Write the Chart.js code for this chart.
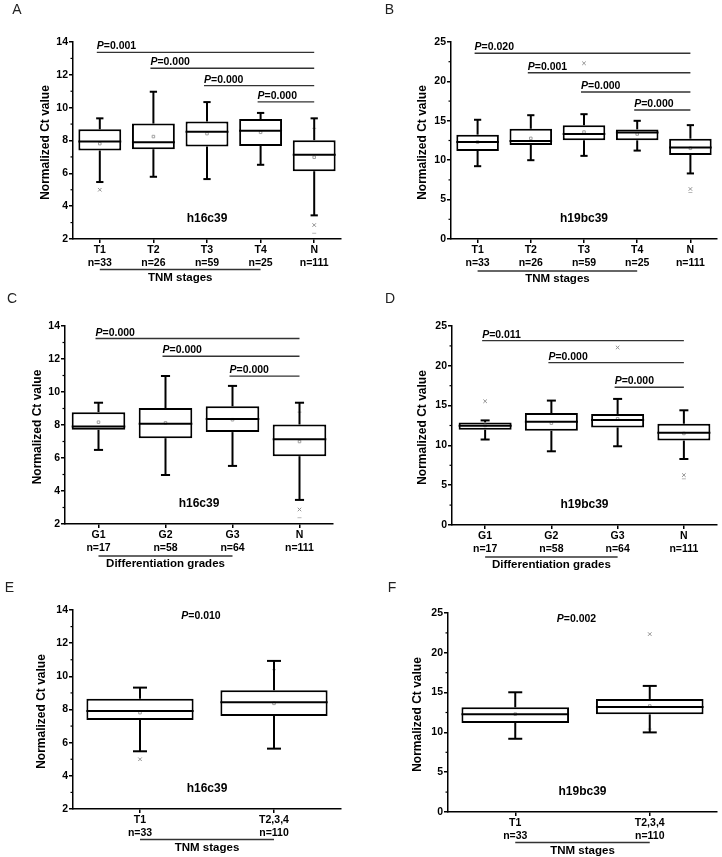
<!DOCTYPE html>
<html>
<head>
<meta charset="utf-8">
<script src="https://cdn.jsdelivr.net/npm/chart.js@4.4.1/dist/chart.umd.min.js"></script>
<style>
  body { margin: 0; background: #fff; width: 722px; height: 857px; position: relative; overflow: hidden; }
  .cell { position: absolute; }
  .cell canvas { display: block; }
</style>
</head>
<body>
<div class="cell" style="left:0;top:0"><canvas id="chartA"></canvas></div>
<div class="cell" style="left:361px;top:0"><canvas id="chartB"></canvas></div>
<div class="cell" style="left:0;top:290px"><canvas id="chartC"></canvas></div>
<div class="cell" style="left:361px;top:290px"><canvas id="chartD"></canvas></div>
<div class="cell" style="left:0;top:580px"><canvas id="chartE"></canvas></div>
<div class="cell" style="left:361px;top:580px"><canvas id="chartF"></canvas></div>
<script>
// --- categories ---
const stageNames = ['T1', 'T2', 'T3', 'T4', 'N'];
const stageCounts = ['n=33', 'n=26', 'n=59', 'n=25', 'n=111'];
const gradeNames = ['G1', 'G2', 'G3', 'N'];
const gradeCounts = ['n=17', 'n=58', 'n=64', 'n=111'];
const pairNames = ['T1', 'T2,3,4'];
const pairCounts = ['n=33', 'n=110'];

// --- A: h16c39 by TNM stage ---
const aLow = [5.47, 5.79, 5.65, 6.52, 3.44];
const aQ1 = [7.39, 7.47, 7.63, 7.67, 6.13];
const aMedian = [7.94, 7.89, 8.54, 8.60, 7.13];
const aQ3 = [8.68, 9.03, 9.15, 9.31, 8.02];
const aHigh = [9.35, 10.97, 10.34, 9.68, 9.35];
const aMean = [7.81, 8.24, 8.42, 8.50, 6.98];
const aOutliers = [['T1', 5.0], ['N', 2.85]];
const aMarks = [['N', 8.74], ['N', 2.35]];
const aPValues = ['0.001', '0.000', '0.000', '0.000'];

// --- B: h19bc39 by TNM stage ---
const bLow = [9.24, 10.0, 10.55, 11.22, 8.32];
const bQ1 = [11.18, 11.93, 12.52, 12.52, 10.67];
const bMedian = [12.3, 12.45, 13.32, 13.5, 11.62];
const bQ3 = [13.24, 13.99, 14.45, 13.91, 12.73];
const bHigh = [15.13, 15.71, 15.84, 15.0, 14.45];
const bMean = [12.3, 12.77, 13.57, 13.32, 11.51];
const bOutliers = [['T3', 22.3], ['N', 6.35]];
const bMarks = [['N', 5.9]];
const bPValues = ['0.020', '0.001', '0.000', '0.000'];

// --- C: h16c39 by differentiation grade ---
const cLow = [6.49, 4.97, 5.52, 3.46];
const cQ1 = [7.71, 7.2, 7.57, 6.11];
const cMedian = [7.91, 8.07, 8.36, 7.14];
const cQ3 = [8.78, 9.03, 9.13, 8.03];
const cHigh = [9.35, 10.97, 10.37, 9.35];
const cMean = [8.17, 8.13, 8.32, 7.0];
const cOutliers = [['N', 2.88]];
const cMarks = [['N', 8.78], ['N', 2.38]];
const cPValues = ['0.000', '0.000', '0.000'];

// --- D: h19bc39 by differentiation grade ---
const dLow = [10.74, 9.26, 9.89, 8.29];
const dQ1 = [11.96, 11.84, 12.26, 10.61];
const dMedian = [12.47, 12.97, 13.19, 11.58];
const dQ3 = [12.89, 14.07, 13.95, 12.72];
const dHigh = [13.14, 15.63, 15.84, 14.41];
const dMean = [12.5, 12.8, 13.35, 11.5];
const dOutliers = [['G1', 15.55], ['G3', 22.3], ['N', 6.27]];
const dMarks = [['N', 5.8]];
const dPValues = ['0.011', '0.000', '0.000'];

// --- E: h16c39, T1 vs T2,3,4 ---
const eLow = [5.48, 5.64];
const eQ1 = [7.37, 7.61];
const eMedian = [7.91, 8.43];
const eQ3 = [8.65, 9.16];
const eHigh = [9.32, 10.93];
const eMean = [7.81, 8.37];
const eOutliers = [['T1', 5.0]];
const eMarks = [['T2,3,4', 10.4]];
const ePValues = ['0.010'];

// --- F: h19bc39, T1 vs T2,3,4 ---
const fLow = [9.2, 10.0];
const fQ1 = [11.18, 12.27];
const fMedian = [12.27, 13.19];
const fQ3 = [13.15, 14.2];
const fHigh = [15.04, 15.84];
const fMean = [12.3, 13.32];
const fOutliers = [['T2,3,4', 22.35]];
const fMarks = [['T2,3,4', 10.42]];
const fPValues = ['0.002'];

const FONT = 'Arial, "Liberation Sans", Helvetica, sans-serif';

function seg(ctx, x1, y1, x2, y2) {
    ctx.beginPath();
    ctx.moveTo(x1, y1);
    ctx.lineTo(x2, y2);
    ctx.stroke();
}

function drawP(ctx, x, y, value, center) {
    ctx.font = 'italic bold 10.5px ' + FONT;
    const wP = ctx.measureText('P').width;
    ctx.font = 'bold 10.5px ' + FONT;
    const wRest = ctx.measureText('=' + value).width;
    const x0 = center ? x - (wP + wRest) / 2 : x;
    ctx.textAlign = 'left';
    ctx.font = 'italic bold 10.5px ' + FONT;
    ctx.fillText('P', x0, y);
    ctx.font = 'bold 10.5px ' + FONT;
    ctx.fillText('=' + value, x0 + wP, y);
}

function makePanel(id, p) {
    const canvas = document.getElementById(id);
    canvas.width = p.cell.w;
    canvas.height = p.cell.h;
    const ox = p.cell.x, oy = p.cell.y;

    const boxPlugin = {
        id: 'boxes_' + id,
        afterDatasetsDraw(chart) {
            const ctx = chart.ctx, y = chart.scales.y;
            const bars = chart.getDatasetMeta(0).data;
            ctx.save();
            ctx.strokeStyle = '#000';
            ctx.lineWidth = 2;
            bars.forEach((bar, i) => {
                const half = bar.width / 2;
                const cap = Math.min(bar.width * 0.17, 14) / 2;
                const cx = bar.x;
                const yHigh = y.getPixelForValue(p.high[i]);
                const yLow = y.getPixelForValue(p.low[i]);
                seg(ctx, cx, y.getPixelForValue(p.q3[i]), cx, yHigh);
                seg(ctx, cx - cap, yHigh, cx + cap, yHigh);
                seg(ctx, cx, y.getPixelForValue(p.q1[i]), cx, yLow);
                seg(ctx, cx - cap, yLow, cx + cap, yLow);
                const ym = y.getPixelForValue(p.median[i]);
                seg(ctx, cx - half, ym, cx + half, ym);
            });
            ctx.restore();
        },
        afterDraw(chart) {
            const ctx = chart.ctx, x = chart.scales.x, y = chart.scales.y;
            const area = chart.chartArea;
            const last = p.names.length - 1;
            ctx.save();

            // minor ticks on y axis
            ctx.strokeStyle = '#000';
            ctx.lineWidth = 1.2;
            for (let v = p.yMin + p.yStep / 2; v < p.yMax; v += p.yStep) {
                const py = y.getPixelForValue(v);
                seg(ctx, area.left - 2.5, py, area.left, py);
            }

            // P value brackets
            ctx.fillStyle = '#000';
            ctx.textBaseline = 'alphabetic';
            p.pValues.forEach((val, k) => {
                const py = y.getPixelForValue(p.pLevels[k]);
                if (p.pLine) {
                    const x1 = x.getPixelForValue(k) - 3;
                    const x2 = x.getPixelForValue(last);
                    ctx.strokeStyle = '#333';
                    ctx.lineWidth = 1.4;
                    seg(ctx, x1, py, x2, py);
                    drawP(ctx, x1, py - 3, val, false);
                } else {
                    const xc = (x.getPixelForValue(0) + x.getPixelForValue(last)) / 2 - 6;
                    drawP(ctx, xc, py + 4, val, true);
                }
            });

            // gene label
            ctx.font = 'bold 12px ' + FONT;
            ctx.textAlign = 'center';
            ctx.textBaseline = 'middle';
            ctx.fillText(p.gene, (area.left + area.right) / 2, area.bottom - 20);

            // group line + group title under the x axis
            const g1 = x.getPixelForValue(0);
            const g2 = x.getPixelForValue(p.groupEnd);
            ctx.strokeStyle = '#333';
            ctx.lineWidth = 1.3;
            seg(ctx, g1, area.bottom + p.groupDy, g2, area.bottom + p.groupDy);
            ctx.font = 'bold 11.5px ' + FONT;
            ctx.fillText(p.group, (g1 + g2) / 2, area.bottom + p.groupDy + 8);

            // y axis title
            ctx.save();
            ctx.translate(p.titleX - ox, (area.top + area.bottom) / 2 + 2);
            ctx.rotate(-Math.PI / 2);
            ctx.font = 'bold 12px ' + FONT;
            ctx.fillText('Normalized Ct value', 0, 0);
            ctx.restore();

            // panel letter
            ctx.font = '14px ' + FONT;
            ctx.fillStyle = '#222';
            ctx.fillText(p.letter, p.letterPos[0] - ox, p.letterPos[1] - oy);
            ctx.restore();
        }
    };

    new Chart(canvas, {
        type: 'bar',
        data: {
            labels: p.names,
            datasets: [
                {
                    type: 'bar',
                    data: p.q1.map((v, i) => [v, p.q3[i]]),
                    backgroundColor: '#fff',
                    borderColor: '#000',
                    borderWidth: 2,
                    borderSkipped: false,
                    categoryPercentage: 0.8,
                    barPercentage: 1,
                    order: 3
                },
                {
                    type: 'line',
                    data: p.mean,
                    showLine: false,
                    pointStyle: 'rect',
                    pointRadius: 1.8,
                    pointBorderWidth: 1,
                    pointBorderColor: '#a0a0a0',
                    pointBackgroundColor: 'rgba(0,0,0,0)',
                    order: 1
                },
                {
                    type: 'line',
                    data: p.outliers.map(o => ({ x: o[0], y: o[1] })),
                    showLine: false,
                    pointStyle: 'crossRot',
                    pointRadius: 2.5,
                    pointBorderWidth: 1,
                    pointBorderColor: '#909090',
                    order: 1
                },
                {
                    type: 'line',
                    data: p.marks.map(o => ({ x: o[0], y: o[1] })),
                    showLine: false,
                    pointStyle: 'line',
                    pointRadius: 2,
                    pointBorderWidth: 1,
                    pointBorderColor: '#b8b8b8',
                    order: 1
                }
            ]
        },
        options: {
            responsive: false,
            animation: false,
            events: [],
            layout: {
                padding: {
                    left: 0,
                    top: p.area.top - oy,
                    right: ox + p.cell.w - p.area.right,
                    bottom: 0
                }
            },
            plugins: {
                legend: { display: false },
                tooltip: { enabled: false }
            },
            scales: {
                x: {
                    type: 'category',
                    offset: true,
                    grid: { offset: false, drawOnChartArea: false, tickLength: 4, color: '#000', lineWidth: 1.5 },
                    border: { color: '#000', width: 1.5 },
                    ticks: {
                        autoSkip: false,
                        maxRotation: 0,
                        padding: 1,
                        color: '#000',
                        font: { family: FONT, size: 10.5, weight: 'bold', lineHeight: 1.24 },
                        callback: (v, i) => [p.names[i], p.counts[i]]
                    },
                    afterFit: s => { s.height = oy + p.cell.h - p.area.bottom; }
                },
                y: {
                    min: p.yMin,
                    max: p.yMax,
                    grid: { drawOnChartArea: false, tickLength: 4, color: '#000', lineWidth: 1.5 },
                    border: { color: '#000', width: 1.5 },
                    ticks: {
                        stepSize: p.yStep,
                        padding: 1,
                        color: '#000',
                        font: { family: FONT, size: 10.5, weight: 'bold' }
                    },
                    afterFit: s => { s.width = p.area.left - ox; }
                }
            }
        },
        plugins: [boxPlugin]
    });
}

makePanel('chartA', {
    cell: { x: 0, y: 0, w: 361, h: 290 },
    area: { left: 73, right: 341, top: 42, bottom: 239 },
    names: stageNames, counts: stageCounts,
    low: aLow, q1: aQ1, median: aMedian, q3: aQ3, high: aHigh, mean: aMean,
    outliers: aOutliers, marks: aMarks,
    pValues: aPValues, pLevels: [13.37, 12.4, 11.34, 10.35], pLine: true,
    yMin: 2, yMax: 14, yStep: 2,
    gene: 'h16c39', group: 'TNM stages', groupEnd: 3, groupDy: 30.5,
    titleX: 46, letter: 'A', letterPos: [17, 10]
});

makePanel('chartB', {
    cell: { x: 361, y: 0, w: 361, h: 290 },
    area: { left: 451, right: 718, top: 42, bottom: 239 },
    names: stageNames, counts: stageCounts,
    low: bLow, q1: bQ1, median: bMedian, q3: bQ3, high: bHigh, mean: bMean,
    outliers: bOutliers, marks: bMarks,
    pValues: bPValues, pLevels: [23.57, 21.1, 18.65, 16.37], pLine: true,
    yMin: 0, yMax: 25, yStep: 5,
    gene: 'h19bc39', group: 'TNM stages', groupEnd: 3, groupDy: 32,
    titleX: 423, letter: 'B', letterPos: [389.5, 10]
});

makePanel('chartC', {
    cell: { x: 0, y: 290, w: 361, h: 290 },
    area: { left: 65, right: 333, top: 326, bottom: 524 },
    names: gradeNames, counts: gradeCounts,
    low: cLow, q1: cQ1, median: cMedian, q3: cQ3, high: cHigh, mean: cMean,
    outliers: cOutliers, marks: cMarks,
    pValues: cPValues, pLevels: [13.24, 12.17, 10.96], pLine: true,
    yMin: 2, yMax: 14, yStep: 2,
    gene: 'h16c39', group: 'Differentiation grades', groupEnd: 2, groupDy: 32,
    titleX: 38, letter: 'C', letterPos: [12, 299]
});

makePanel('chartD', {
    cell: { x: 361, y: 290, w: 361, h: 290 },
    area: { left: 452, right: 719, top: 326, bottom: 525 },
    names: gradeNames, counts: gradeCounts,
    low: dLow, q1: dQ1, median: dMedian, q3: dQ3, high: dHigh, mean: dMean,
    outliers: dOutliers, marks: dMarks,
    pValues: dPValues, pLevels: [23.16, 20.4, 17.31], pLine: true,
    yMin: 0, yMax: 25, yStep: 5,
    gene: 'h19bc39', group: 'Differentiation grades', groupEnd: 2, groupDy: 32,
    titleX: 423, letter: 'D', letterPos: [390, 299]
});

makePanel('chartE', {
    cell: { x: 0, y: 580, w: 361, h: 277 },
    area: { left: 73, right: 341, top: 610, bottom: 809 },
    names: pairNames, counts: pairCounts,
    low: eLow, q1: eQ1, median: eMedian, q3: eQ3, high: eHigh, mean: eMean,
    outliers: eOutliers, marks: eMarks,
    pValues: ePValues, pLevels: [13.7], pLine: false,
    yMin: 2, yMax: 14, yStep: 2,
    gene: 'h16c39', group: 'TNM stages', groupEnd: 1, groupDy: 30.5,
    titleX: 42, letter: 'E', letterPos: [9.5, 588]
});

makePanel('chartF', {
    cell: { x: 361, y: 580, w: 361, h: 277 },
    area: { left: 448, right: 718, top: 613, bottom: 812 },
    names: pairNames, counts: pairCounts,
    low: fLow, q1: fQ1, median: fMedian, q3: fQ3, high: fHigh, mean: fMean,
    outliers: fOutliers, marks: fMarks,
    pValues: fPValues, pLevels: [24.4], pLine: false,
    yMin: 0, yMax: 25, yStep: 5,
    gene: 'h19bc39', group: 'TNM stages', groupEnd: 1, groupDy: 30.5,
    titleX: 418, letter: 'F', letterPos: [392, 588]
});
</script>
</body>
</html>
